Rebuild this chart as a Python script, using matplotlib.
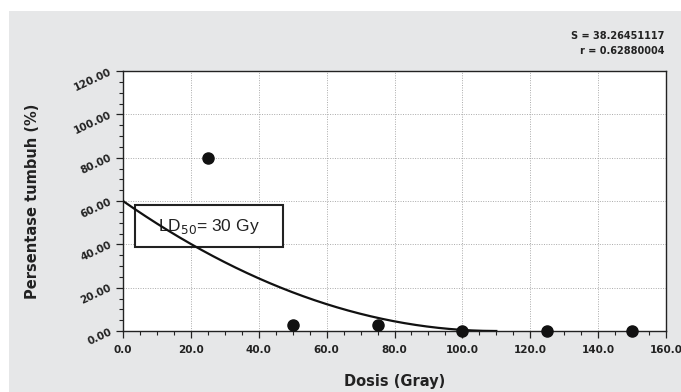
import numpy as np
import matplotlib
matplotlib.use("Agg")
import matplotlib.pyplot as plt
from matplotlib import font_manager as fm
from matplotlib.patches import Rectangle
from matplotlib.ticker import MultipleLocator, FormatStrFormatter

def find_font(name):
    for f in fm.findSystemFonts():
        if f.endswith(name):
            return f
    return None

reg_path = find_font('LiberationSans-Regular.ttf')
BOLD = fm.FontProperties(family='DejaVu Sans', weight='bold')
REG = fm.FontProperties(fname=reg_path) if reg_path else fm.FontProperties(family='DejaVu Sans')

def fp(base, size):
    p = base.copy()
    p.set_size(size)
    return p

# Data
dose = [25, 50, 75, 100, 125, 150]
growth = [80.0, 3.0, 3.0, 0.0, 0.0, 0.0]
# quadratic fit coefficients (y = c0 + c1*x + c2*x^2)
fit_coef = [60.0, -1.091, 0.00496]
fit_range = [0, 110]
x_ticks = [0, 20, 40, 60, 80, 100, 120, 140, 160]
y_ticks = [0, 20, 40, 60, 80, 100, 120]
stats_text = ["S = 38.26451117", "r = 0.62880004"]
ld50_label = "LD$_{50}$= 30 Gy"

plt.rcParams['mathtext.fontset'] = 'custom'
plt.rcParams['mathtext.rm'] = 'Liberation Sans'

fig = plt.figure(figsize=(6.81, 3.92), dpi=100)
fig.patch.set_facecolor('white')
bg = fig.add_axes([9/681, 0, 1 - 9/681, 1 - 11/392], zorder=0)
bg.set_facecolor('#e6e7e8')
bg.set_xticks([]); bg.set_yticks([])
for s in bg.spines.values():
    s.set_visible(False)

ax = fig.add_axes([123/681, 1 - 331/392, (666 - 123)/681, (331 - 71)/392], zorder=2)
ax.set_facecolor('white')

xf = np.linspace(fit_range[0], fit_range[1], 200)
yf = fit_coef[0] + fit_coef[1]*xf + fit_coef[2]*xf**2

box = Rectangle((3.5, 38.8), 43.6, 19.3, facecolor='white', edgecolor='#222222', lw=1.5, zorder=3)
ax.add_patch(box)
ax.text(3.5 + 43.6/2, 38.8 + 19.3/2, ld50_label, ha='center', va='center',
        fontproperties=fp(REG, 12.5), color='#222222', zorder=4)

ax.plot(xf, yf, color='#111111', lw=1.6, zorder=5)
ax.plot(dose, growth, 'o', color='#111111', markersize=8, zorder=6, clip_on=False)

ax.set_xlim(0, 160)
ax.set_ylim(0, 120)
ax.set_xticks(x_ticks)
ax.set_yticks(y_ticks)
ax.xaxis.set_minor_locator(MultipleLocator(5))
ax.yaxis.set_minor_locator(MultipleLocator(5))
ax.xaxis.set_major_formatter(FormatStrFormatter('%.1f'))
ax.yaxis.set_major_formatter(FormatStrFormatter('%.2f'))
ax.grid(True, which='major', color='#aaaaaa', linestyle=(0, (1, 1.5)), lw=0.7, zorder=1)
ax.set_axisbelow(True)

ax.tick_params(axis='both', which='major', direction='out', length=5, width=0.9, colors='#222222')
ax.tick_params(axis='both', which='minor', direction='out', length=3, width=0.8, colors='#222222')
ax.tick_params(axis='x', pad=5)
for lab in ax.get_xticklabels():
    lab.set_fontproperties(fp(BOLD, 7.5)); lab.set_color('#222222')
for lab in ax.get_yticklabels():
    lab.set_fontproperties(fp(BOLD, 7.5)); lab.set_color('#222222')
    lab.set_rotation(25)
    lab.set_rotation_mode('anchor')
    lab.set_ha('right')
    lab.set_va('center')
for s in ax.spines.values():
    s.set_color('#222222'); s.set_linewidth(1.0)

ax.set_xlabel('Dosis (Gray)', fontproperties=fp(BOLD, 10.5), color='#222222')
ax.set_ylabel('Persentase tumbuh (%)', fontproperties=fp(BOLD, 10.5), color='#222222')
ax.xaxis.set_label_coords(0.5, -0.165)
ax.yaxis.set_label_coords(-0.152, 0.5)

fig.text(664/681, 1 - 36/392, stats_text[0], ha='right', va='center', fontproperties=fp(BOLD, 7), color='#222222')
fig.text(664/681, 1 - 51/392, stats_text[1], ha='right', va='center', fontproperties=fp(BOLD, 7), color='#222222')

fig.savefig('out.png', dpi=100)
